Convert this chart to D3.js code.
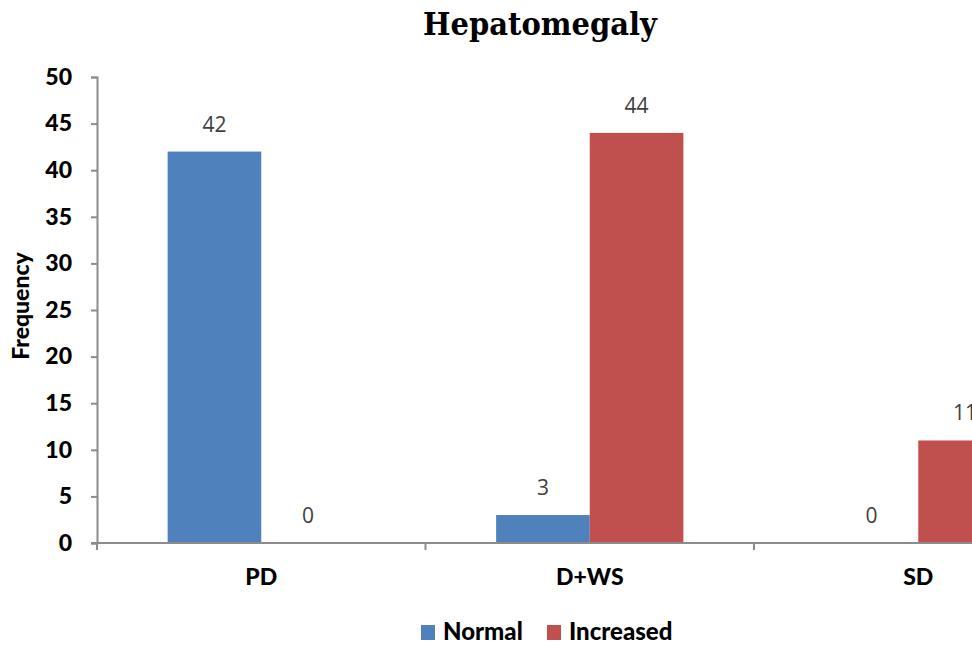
<!DOCTYPE html>
<html><head><meta charset="utf-8">
<script src="https://cdn.jsdelivr.net/npm/d3@7"></script>
<style>body{margin:0;background:#fff;overflow:hidden}</style>
</head><body>
<script>
const categories = ["PD", "D+WS", "SD"];
const seriesNames = ["Normal", "Increased"];
const normal = [42, 3, 0];
const increased = [0, 44, 11];
const yTicks = [0, 5, 10, 15, 20, 25, 30, 35, 40, 45, 50];
const colors = ["#4F81BD", "#C0504D"];

const W = 972, H = 648;
const svg = d3.select("body").append("svg").attr("width", W).attr("height", H);
const x0 = d3.scaleBand().domain(categories).range([97, 1082.5]).paddingInner(0.43).paddingOuter(0.215);
const x1 = d3.scaleBand().domain(seriesNames).range([0, x0.bandwidth()]);
const y = d3.scaleLinear().domain([0, 50]).range([543, 77]);
const font = "Lato, 'Open Sans', sans-serif";
const axisCol = "#8c8c8c";

// title
svg.append("text").attr("x", 540).attr("y", 35).attr("text-anchor", "middle")
  .attr("font-family", "'DejaVu Serif', serif").attr("font-weight", "bold").attr("font-size", 31)
  .attr("textLength", 234).attr("lengthAdjust", "spacingAndGlyphs")
  .text("Hepatomegaly");

// bars
const series = [normal, increased];
categories.forEach((c, i) => {
  seriesNames.forEach((s, j) => {
    const v = series[j][i];
    const bx = x0(c) + x1(s);
    svg.append("rect").attr("x", bx).attr("y", y(v)).attr("width", x1.bandwidth()).attr("height", y(0) - y(v))
      .attr("fill", colors[j]);
    svg.append("text").attr("x", bx + x1.bandwidth() / 2).attr("y", y(v) - 20).attr("text-anchor", "middle")
      .attr("font-family", "'Open Sans', sans-serif").attr("font-size", 21).attr("fill", "#404040").text(v);
  });
});

// y axis
const yAxis = svg.append("g").attr("transform", "translate(97,0)")
  .call(d3.axisLeft(y).tickValues(yTicks).tickSize(6).tickPadding(19));
yAxis.select(".domain").attr("stroke", axisCol).attr("stroke-width", 2);
yAxis.selectAll(".tick line").attr("stroke", axisCol).attr("stroke-width", 2);
yAxis.selectAll(".tick text").attr("font-family", font).attr("font-weight", 900).attr("font-size", 23).attr("fill", "#000");

// x axis
const xAxisG = svg.append("g").attr("transform", "translate(0,543)");
xAxisG.append("line").attr("x1", 91).attr("x2", W).attr("y1", 0).attr("y2", 0).attr("stroke", axisCol).attr("stroke-width", 2);
const boundaries = [0, 1, 2, 3].map(i => x0.range()[0] + i * x0.step());
xAxisG.selectAll("line.tk").data(boundaries).enter().append("line").attr("class", "tk")
  .attr("x1", d => d).attr("x2", d => d).attr("y1", 0).attr("y2", 7).attr("stroke", axisCol).attr("stroke-width", 2);
xAxisG.selectAll("text").data(categories).enter().append("text")
  .attr("x", d => x0(d) + x0.bandwidth() / 2).attr("y", 42).attr("text-anchor", "middle")
  .attr("font-family", font).attr("font-weight", 900).attr("font-size", 23).text(d => d);

// y label
svg.append("text").attr("transform", "translate(29,306) rotate(-90)").attr("text-anchor", "middle")
  .attr("font-family", font).attr("font-weight", 900).attr("font-size", 23).text("Frequency");

// legend
const leg = [{n: "Normal", x: 421}, {n: "Increased", x: 547}];
leg.forEach((l, i) => {
  svg.append("rect").attr("x", l.x).attr("y", 625).attr("width", 14).attr("height", 15).attr("fill", colors[i]);
  svg.append("text").attr("x", l.x + 22).attr("y", 640).attr("font-family", font).attr("font-weight", 900)
    .attr("font-size", 24).text(l.n);
});
</script>
</body></html>
